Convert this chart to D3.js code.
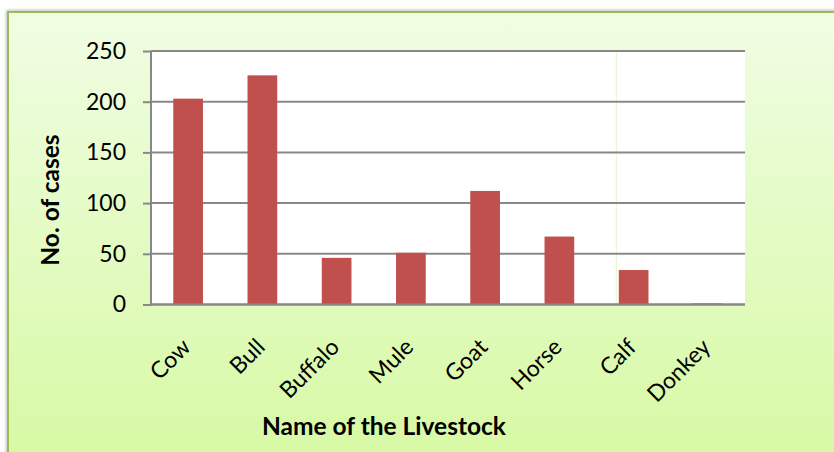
<!DOCTYPE html>
<html><head><meta charset="utf-8">
<script src="https://cdn.jsdelivr.net/npm/d3@7"></script>
<style>html,body{margin:0;padding:0;background:#fff;}svg{display:block;}</style>
</head><body>
<svg id="c" width="834" height="452"></svg>
<script>
const categories = ["Cow","Bull","Buffalo","Mule","Goat","Horse","Calf","Donkey"];
const cases = [203, 226, 46, 51, 112, 67, 34, 1];
const yTicks = [0, 50, 100, 150, 200, 250];
const yTitle = "No. of cases";
const xTitle = "Name of the Livestock";

const svg = d3.select("#c");
const font = "Lato, 'Open Sans', sans-serif";

const defs = svg.append("defs");
const g = defs.append("linearGradient").attr("id","bg").attr("x1",0).attr("y1",0).attr("x2",0).attr("y2",1);
g.append("stop").attr("offset","0%").attr("stop-color","#f0fde3");
g.append("stop").attr("offset","100%").attr("stop-color","#d7f9a4");
const sh = defs.append("filter").attr("id","sh").attr("x","-5%").attr("y","-5%").attr("width","110%").attr("height","110%");
sh.append("feDropShadow").attr("dx",-1).attr("dy",-1).attr("stdDeviation",1.5).attr("flood-color","#000").attr("flood-opacity",0.25);

svg.append("rect").attr("x",8).attr("y",12).attr("width",840).attr("height",450)
  .attr("fill","url(#bg)").attr("stroke","#9bbb59").attr("stroke-width",2).attr("filter","url(#sh)");

const pLeft = 151, pRight = 745, pTop = 51, pBottom = 304.5;
const x = d3.scaleBand().domain(categories).range([pLeft, pRight]).paddingInner(0.6).paddingOuter(0.3);
const y = d3.scaleLinear().domain([0, 250]).range([pBottom, pTop]);

svg.append("rect").attr("x",pLeft).attr("y",pTop).attr("width",pRight-pLeft).attr("height",pBottom-pTop).attr("fill","#fff");
svg.append("line").attr("x1",616.3).attr("x2",616.3).attr("y1",pTop).attr("y2",pBottom).attr("stroke","#e4f7c8").attr("stroke-width",1);

// gridlines + y axis ticks
const yAxis = d3.axisLeft(y).tickValues(yTicks).tickSize(8).tickPadding(17).tickFormat(d3.format("d"));
const ya = svg.append("g").attr("transform",`translate(${pLeft},0)`).call(yAxis);
ya.select(".domain").remove();
ya.selectAll(".tick line").attr("stroke","#888").attr("stroke-width",2);
ya.selectAll(".tick text").attr("font-family",font).attr("font-size",23).attr("fill","#000");
svg.append("g").selectAll("line").data(yTicks).join("line")
  .attr("x1",pLeft).attr("x2",pRight).attr("y1",d=>y(d)).attr("y2",d=>y(d))
  .attr("stroke","#888").attr("stroke-width",2);
svg.append("line").attr("x1",pLeft).attr("x2",pLeft).attr("y1",pTop).attr("y2",pBottom+1).attr("stroke","#888").attr("stroke-width",2);

// bars
svg.append("g").selectAll("rect").data(categories).join("rect")
  .attr("x",d=>x(d)).attr("width",x.bandwidth())
  .attr("y",(d,i)=>y(cases[i])).attr("height",(d,i)=>y(0)-y(cases[i]))
  .attr("fill","#c0504d");
svg.append("line").attr("x1",pLeft).attr("x2",pRight).attr("y1",y(0)).attr("y2",y(0)).attr("stroke","#888").attr("stroke-width",2);

// x labels
const xa = svg.append("g").attr("transform",`translate(0,${pBottom})`)
  .call(d3.axisBottom(x).tickSize(0).tickPadding(0));
xa.select(".domain").remove();
xa.selectAll(".tick text")
  .attr("font-family",font).attr("font-size",23).attr("fill","#000")
  .attr("text-anchor","end").attr("dy",0)
  .attr("transform","translate(4,44) rotate(-45)");

svg.append("text").attr("x",384).attr("y",435).attr("text-anchor","middle")
  .attr("font-family",font).attr("font-weight","bold").attr("font-size",24.5).text(xTitle);
svg.append("text").attr("transform","translate(59,200) rotate(-90)").attr("text-anchor","middle")
  .attr("font-family",font).attr("font-weight","bold").attr("font-size",24.5).text(yTitle);
</script>
</body></html>
